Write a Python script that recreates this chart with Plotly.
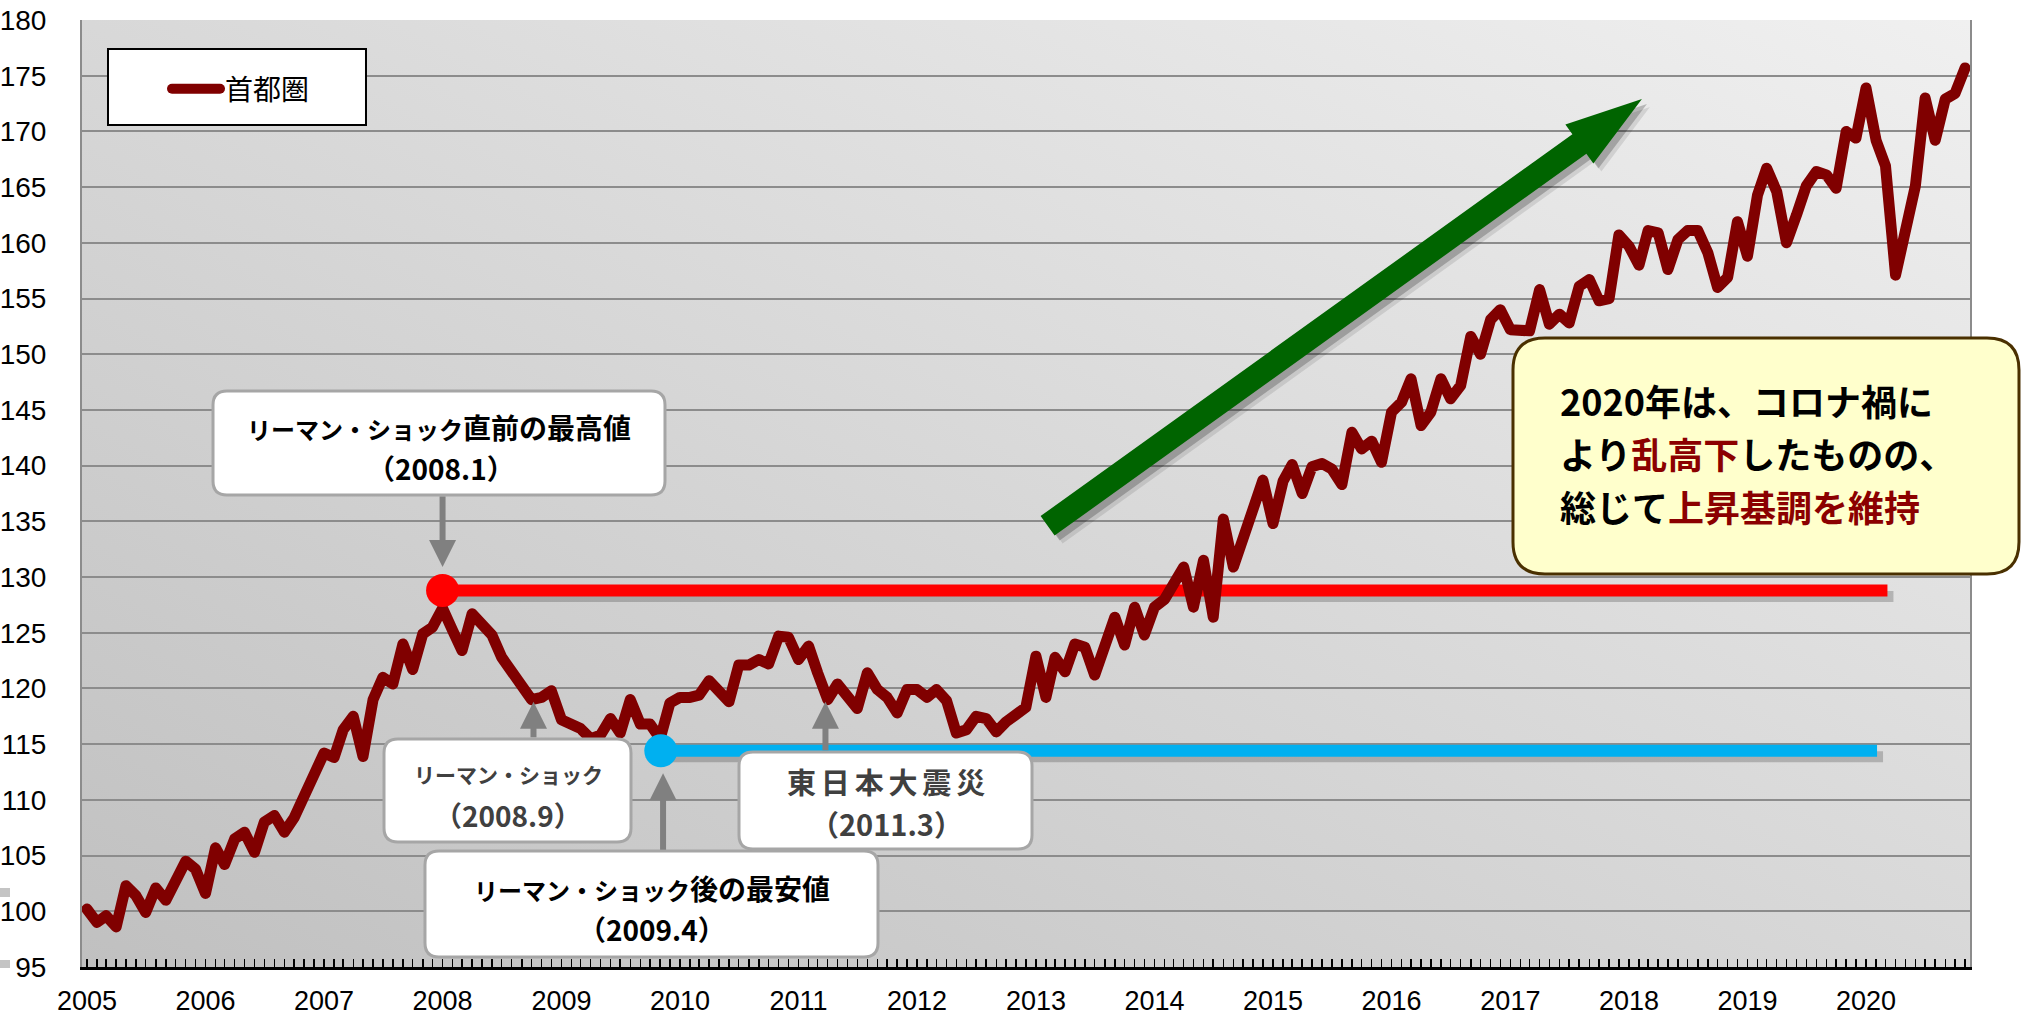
import base64
import pandas as pd
import plotly.graph_objects as go

# ---------------- data ----------------
months = pd.date_range("2005-01-01", "2020-11-01", freq="MS")
shutoken_index = [
    100.2, 99.0, 99.6, 98.6, 102.3, 101.4, 99.9, 102.1, 101.0, 102.9, 104.5, 103.8,   # 2005
    101.6, 105.7, 104.2, 106.5, 107.1, 105.3, 108.0, 108.6, 107.1, 108.4, 110.4, 112.6,  # 2006
    114.2, 113.8, 116.3, 117.5, 113.9, 119.0, 121.0, 120.4, 124.0, 121.7, 124.9, 125.5,  # 2007
    127.2, 125.2, 123.4, 126.7, 125.8, 124.8, 122.8, 121.4, 120.4, 119.0, 119.2, 119.8,  # 2008
    117.2, 116.9, 116.4, 115.5, 115.8, 117.3, 116.0, 119.0, 116.8, 116.8, 115.5, 118.7,  # 2009
    119.2, 119.2, 119.4, 120.7, 119.7, 118.8, 122.1, 122.1, 122.6, 122.2, 124.7, 124.6,  # 2010
    122.6, 123.8, 121.4, 119.0, 120.4, 119.3, 118.2, 121.4, 119.9, 119.2, 117.8, 119.9,  # 2011
    119.9, 119.2, 119.9, 118.9, 116.0, 116.3, 117.5, 117.3, 116.1, 117.0, 117.6, 118.3,  # 2012
    122.9, 119.2, 122.8, 121.5, 124.0, 123.7, 121.2, 123.8, 126.4, 123.9, 127.3, 124.8,  # 2013
    127.3, 128.0, 129.2, 130.9, 127.3, 131.5, 126.4, 135.2, 130.9, 133.3, 135.7, 138.7,  # 2014
    134.8, 138.6, 140.1, 137.5, 139.9, 140.2, 139.7, 138.3, 143.0, 141.5, 142.2, 140.3,  # 2015
    144.8, 145.7, 147.8, 143.6, 144.8, 147.8, 146.0, 147.2, 151.6, 150.0, 153.1, 154.0,  # 2016
    152.2, 152.1, 152.1, 155.8, 152.7, 153.6, 152.8, 156.1, 156.7, 154.8, 155.0, 160.7,  # 2017
    159.7, 158.0, 161.1, 160.9, 157.6, 160.3, 161.1, 161.1, 159.1, 156.0, 156.9, 161.9,  # 2018
    158.8, 164.3, 166.7, 164.6, 160.0, 162.5, 165.1, 166.4, 166.1, 164.9, 170.0, 169.4,  # 2019
    173.9, 169.2, 166.9, 157.1, 160.6, 165.1, 173.0, 169.2, 172.9, 173.4, 175.7,         # 2020
]
series_name = "首都圏"
year_ticks = pd.date_range("2005-01-01", "2020-01-01", freq="YS")
year_labels = [str(d.year) for d in year_ticks]
y_ticks = list(range(95, 181, 5))

peak_date, peak_value, peak_line_end = "2008-01-01", 128.8, "2020-03-07"
low_date, low_value, low_line_end = "2009-11-03", 114.4, "2020-02-04"
trend_from = ("2013-02-06", 134.6)
trend_to = ("2018-02-10", 172.9)

# callout arrows: (tip date, tip value, tail offset px)
arrow_peak = ("2008-01-01", 130.9, -72)
arrow_shock = ("2008-10-07", 118.8, 37)
arrow_low = ("2009-11-10", 112.4, 78)
arrow_quake = ("2011-03-25", 118.8, 50)

# ---------------- layout geometry ----------------
W, H = 2022, 1018
ML, MR, MT, MB = 82, 52, 20, 51
PW, PH = W - ML - MR, H - MT - MB
Y0, Y1 = 95, 180
pad = pd.Timedelta(days=15.2)
x_range = [months[0] - pad, months[-1] + pad]
px_per_day = PW / ((x_range[1] - x_range[0]).total_seconds() / 86400)
px_per_unit = PH / (Y1 - Y0)


def px(xp):
    return (xp - ML) / PW


def py(yp):
    return (MT + PH - yp) / PH


def rrect_path(x0, y0, x1, y1, r):
    def P(a, b):
        return f"{px(a):.5f},{py(b):.5f}"
    return (f"M{P(x0 + r, y0)} L{P(x1 - r, y0)} Q{P(x1, y0)} {P(x1, y0 + r)} "
            f"L{P(x1, y1 - r)} Q{P(x1, y1)} {P(x1 - r, y1)} L{P(x0 + r, y1)} "
            f"Q{P(x0, y1)} {P(x0, y1 - r)} L{P(x0, y0 + r)} Q{P(x0, y0)} {P(x0 + r, y0)} Z")


fig = go.Figure()

# main series
fig.add_trace(go.Scatter(
    x=months, y=shutoken_index, mode="lines", name=series_name,
    line=dict(color="#800000", width=11), showlegend=True, hoverinfo="skip",
))
# marker dots
fig.add_trace(go.Scatter(
    x=[peak_date], y=[peak_value], mode="markers", showlegend=False,
    marker=dict(color="#ff0000", size=33, line=dict(width=0)), hoverinfo="skip",
))
fig.add_trace(go.Scatter(
    x=[low_date], y=[low_value], mode="markers", showlegend=False,
    marker=dict(color="#00b0f0", size=33, line=dict(width=0)), hoverinfo="skip",
))

shapes = []
shadow_dy = 6 / px_per_unit
shadow_dx = pd.Timedelta(days=6 / px_per_day)
for d0, d1, v, col in [(peak_date, peak_line_end, peak_value, "#ff0000"),
                       (low_date, low_line_end, low_value, "#00b0f0")]:
    shapes.append(dict(type="line", xref="x", yref="y", layer="between",
                       x0=d0, x1=pd.Timestamp(d1) + shadow_dx, y0=v - shadow_dy, y1=v - shadow_dy,
                       line=dict(color="rgba(0,0,0,0.20)", width=11)))
    shapes.append(dict(type="line", xref="x", yref="y", layer="between",
                       x0=d0, x1=d1, y0=v, y1=v, line=dict(color=col, width=12)))

# green trend arrow (pixel geometry anchored at its data start point)
dxp = (pd.Timestamp(trend_to[0]) - pd.Timestamp(trend_from[0])).total_seconds() / 86400 * px_per_day
dyp = (trend_to[1] - trend_from[1]) * px_per_unit
Lp = (dxp ** 2 + dyp ** 2) ** 0.5
ux, uy = dxp / Lp, dyp / Lp
nx, ny = -uy, ux
sw, hw, hl = 12, 24, 77


def arrow_path(ox, oy):
    pts = [
        (-nx * sw, -ny * sw),
        ((Lp - hl) * ux - nx * sw, (Lp - hl) * uy - ny * sw),
        ((Lp - hl) * ux - nx * hw, (Lp - hl) * uy - ny * hw),
        (Lp * ux, Lp * uy),
        ((Lp - hl) * ux + nx * hw, (Lp - hl) * uy + ny * hw),
        ((Lp - hl) * ux + nx * sw, (Lp - hl) * uy + ny * sw),
        (nx * sw, ny * sw),
    ]
    return "M" + " L".join(f"{a + ox:.2f},{b + oy:.2f}" for a, b in pts) + " Z"


for (ox, oy, col) in [(8, -8, "rgba(0,0,0,0.10)"), (5, -5, "rgba(0,0,0,0.22)"), (0, 0, "#006400")]:
    shapes.append(dict(type="path", xref="x", yref="y", xsizemode="pixel", ysizemode="pixel",
                       xanchor=trend_from[0], yanchor=trend_from[1], layer="above",
                       path=arrow_path(ox, oy), fillcolor=col, line=dict(width=0)))

# callout boxes
boxes = [
    (213, 391, 665, 495, 14, "white", "#a6a6a6", 3),
    (384, 739, 631, 842, 14, "white", "#a6a6a6", 3),
    (425, 851, 878, 957, 14, "white", "#a6a6a6", 3),
    (739, 752, 1032, 849, 14, "white", "#a6a6a6", 3),
    (1513, 338, 2019, 574, 32, "#ffffcc", "#4a3000", 3),
    (108, 49, 366, 125, 0, "white", "black", 2),
]
for x0, y0, x1, y1, r, fc, lc, lw in boxes:
    shapes.append(dict(type="path", xref="paper", yref="paper", layer="above",
                       path=rrect_path(x0, y0, x1, y1, r), fillcolor=fc,
                       line=dict(color=lc, width=lw)))

# small artefacts at left edge
for y0, y1 in [(888, 897), (960, 968)]:
    shapes.append(dict(type="rect", xref="paper", yref="paper", layer="above",
                       x0=px(0), x1=px(10), y0=py(y1), y1=py(y0),
                       fillcolor="#c4c4c4", line=dict(width=0)))

JP = "Noto Sans CJK JP"
annotations = []


def text_ann(xc, yc, text, size, color, xanchor="center"):
    annotations.append(dict(xref="paper", yref="paper", x=px(xc), y=py(yc), text=text,
                            showarrow=False, xanchor=xanchor, yanchor="middle", align="left",
                            font=dict(family=JP, size=size, color=color)))


def kat(size):
    return f'<span style="font-size:{size}px">リーマン・ショック</span>'


sp = "\u2006"
text_ann(439, 426.5, f"<b>{kat(24)}直前の最高値</b>", 28, "#000000")
text_ann(441, 467.5, "<b>（2008.1）</b>", 28, "#000000")
text_ann(508, 774, f"<b>{kat(21)}</b>", 28, "#404040")
text_ann(508, 815, "<b>（2008.9）</b>", 28, "#404040")
text_ann(652, 887.5, f"<b>{kat(24)}後の最安値</b>", 28, "#000000")
text_ann(652, 928.5, "<b>（2009.4）</b>", 28, "#000000")
text_ann(886, 780.5, "<b>" + sp.join("東日本大震災") + "</b>", 29, "#404040")
text_ann(886, 822.5, "<b>（2011.3）</b>", 29, "#404040")
red = "#8b0000"
text_ann(1558, 400, "<b>2020年は、コロナ禍に</b>", 36, "#000000", xanchor="left")
text_ann(1558, 453, f'<b>より<span style="color:{red}">乱高下</span>したものの、</b>', 36, "#000000",
         xanchor="left")
text_ann(1558, 506, f'<b>総じて<span style="color:{red}">上昇基調を維持</span></b>', 36, "#000000",
         xanchor="left")

for xd, yv, ay in [arrow_peak, arrow_shock, arrow_low, arrow_quake]:
    annotations.append(dict(x=xd, y=yv, xref="x", yref="y", text="", showarrow=True,
                            ax=0, ay=ay, arrowhead=2, arrowsize=0.9, arrowwidth=6,
                            arrowcolor="#808080", standoff=0))

# plot background gradient
svg = ('<svg xmlns="http://www.w3.org/2000/svg" width="400" height="200" viewBox="0 0 400 200" '
       'preserveAspectRatio="none"><defs><linearGradient id="g" x1="0" y1="1" x2="1" y2="0">'
       '<stop offset="0" stop-color="#c0c0c0"/><stop offset="1" stop-color="#f0f0f0"/>'
       '</linearGradient></defs><rect width="400" height="200" fill="url(#g)"/></svg>')
bg_src = "data:image/svg+xml;base64," + base64.b64encode(svg.encode()).decode()

y_tick_font = dict(family="Liberation Sans Narrow, Arial Narrow, Liberation Sans, Arial", size=28, color="black")
x_tick_font = dict(family="Liberation Sans Narrow, Arial Narrow, Liberation Sans, Arial", size=27, color="black")

fig.update_layout(
    width=W, height=H, margin=dict(l=ML, r=MR, t=MT, b=MB, pad=0, autoexpand=False),
    paper_bgcolor="white", plot_bgcolor="rgba(0,0,0,0)",
    images=[dict(source=bg_src, xref="paper", yref="paper", x=0, y=1, sizex=1, sizey=1,
                 sizing="stretch", layer="below")],
    shapes=shapes, annotations=annotations,
    showlegend=True,
    legend=dict(x=px(167), y=py(64), xanchor="left", yanchor="top",
                bgcolor="rgba(0,0,0,0)", borderwidth=0, itemwidth=48,
                font=dict(family=JP, size=28, color="black")),
    xaxis=dict(type="date", range=x_range, tickvals=year_ticks, ticktext=year_labels,
               ticks="inside", ticklen=8, tickwidth=1.5, tickcolor="black",
               minor=dict(ticks="inside", ticklen=8, tickwidth=1.5, tickcolor="black",
                          dtick="M1", tick0="2005-01-01", showgrid=False),
               showgrid=False, zeroline=False, showline=True, linecolor="black", linewidth=2.5,
               tickfont=x_tick_font, ticklabelstandoff=8, automargin=False, fixedrange=True),
    yaxis=dict(range=[Y0, Y1], tickvals=y_ticks, ticks="", showgrid=True,
               gridcolor="#8c8c8c", gridwidth=2, zeroline=False, showline=True,
               linecolor="#8c8c8c", linewidth=2, mirror=True,
               tickfont=y_tick_font, ticklabelstandoff=28, automargin=False, fixedrange=True),
)

post = ("document.body.style.margin='0';document.body.style.overflow='hidden';"
        "var s=document.createElement('style');"
        "s.textContent='.scatterlayer .js-line{stroke-linejoin:round;stroke-linecap:round}"
        ".legend .js-line{stroke-linecap:round}';document.head.appendChild(s);")
fig.write_html("out.html", include_plotlyjs=True, post_script=post,
               config={"displayModeBar": False, "staticPlot": True})
